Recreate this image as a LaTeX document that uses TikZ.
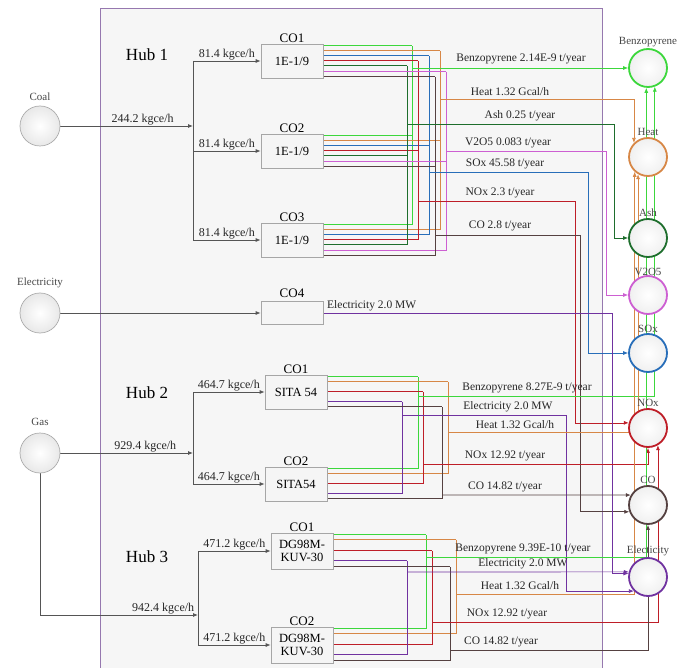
\documentclass[tikz,border=0pt]{standalone}
\usepackage{fontspec}
\setmainfont{Liberation Serif}
\usetikzlibrary{arrows.meta, positioning, calc, backgrounds}
\definecolor{hbpurple}{RGB}{150,120,175}
\definecolor{hbfill}{RGB}{246,246,246}
\definecolor{hbgrey}{RGB}{85,85,85}
\definecolor{hbbzp}{RGB}{60,215,60}
\definecolor{hbheat}{RGB}{215,135,70}
\definecolor{hbash}{RGB}{30,110,45}
\definecolor{hbvox}{RGB}{205,95,210}
\definecolor{hbsox}{RGB}{40,110,185}
\definecolor{hbnox}{RGB}{190,30,40}
\definecolor{hbco}{RGB}{85,65,65}
\definecolor{hbelec}{RGB}{112,50,160}
\tikzset{
  source/.style  = {circle, draw=gray!65, line width=0.7pt, inner color=white,
                    outer color=gray!18, minimum size=40pt, inner sep=0pt},
  sink/.style    = {circle, draw=#1, line width=1.8pt, inner color=white,
                    outer color=gray!12, minimum size=38pt, inner sep=0pt},
  unit/.style    = {rectangle, draw=gray!70, line width=0.7pt, fill=gray!8,
                    align=center, minimum width=62pt, minimum height=34pt,
                    font=\fontsize{12.5}{13}\selectfont, inner sep=1pt},
  nodelab/.style = {font=\fontsize{11}{12}\selectfont, text=gray!55!black, inner sep=1pt},
  colab/.style   = {font=\fontsize{13}{14}\selectfont, inner sep=0.5pt},
  hublab/.style  = {font=\fontsize{17}{18}\selectfont},
  flowlab/.style = {font=\fontsize{12}{13}\selectfont, text=black!85, inner sep=1pt},
  outlab/.style  = {font=\fontsize{11.5}{12}\selectfont, text=black!85, inner sep=1pt, anchor=south},
  fuel/.style    = {-{Latex[length=5pt,width=4pt]}, line width=0.8pt, draw=hbgrey},
  trunk/.style   = {line width=0.8pt, draw=hbgrey},
  wire/.style    = {line width=0.7pt, draw=#1},
  feed/.style    = {wire=#1, -{Latex[length=5pt,width=4pt]}},
}

\begin{document}
\begin{tikzpicture}[x=1pt, y=-1pt]
\useasboundingbox (0,0) rectangle (693,668);

% ---------- Sources ----------
\node[source] (coal) at (40,126) {};
\node[nodelab, above=4pt of coal] {Coal};
\node[source] (elsrc) at (40,313) {};
\node[nodelab, above=4pt of elsrc] {Electricity};
\node[source] (gas) at (40,453) {};
\node[nodelab, above=6pt of gas] {Gas};

% ---------- Hub 1 ----------
\node[hublab] (hub1) at (147,55) {Hub 1};
\node[unit] (h1a) at (292,61) {1E-1/9};
\node[colab, above=0pt of h1a] {CO1};
\node[unit] (h1b) at (292,151) {1E-1/9};
\node[colab, above=0pt of h1b] {CO2};
\node[unit] (h1c) at (292,240) {1E-1/9};
\node[colab, above=0pt of h1c] {CO3};
\node[unit, minimum height=23pt] (co4) at (292,313) {};
\node[colab, above=3pt of co4] {CO4};

% ---------- Hub 2 ----------
\node[hublab] (hub2) at (147,393) {Hub 2};
\node[unit] (h2a) at (296,392) {SITA 54};
\node[colab, above=0pt of h2a] {CO1};
\node[unit] (h2b) at (296,484) {SITA54};
\node[colab, above=0pt of h2b] {CO2};

% ---------- Hub 3 ----------
\node[hublab] (hub3) at (147,557) {Hub 3};
\node[unit, minimum height=36pt] (h3a) at (302,551) {DG98M-\\KUV-30};
\node[colab, above=0pt of h3a] {CO1};
\node[unit, minimum height=36pt] (h3b) at (302,645) {DG98M-\\KUV-30};
\node[colab, above=0pt of h3b] {CO2};

% ---------- Sinks ----------
\node[sink=hbbzp] (bzp) at (648,68) {};
\node[nodelab, above=0pt of bzp] {Benzopyrene};
\node[sink=hbheat] (heat) at (648,157) {};
\node[nodelab, above=0pt of heat] {Heat};
\node[sink=hbash] (ash) at (648,238) {};
\node[nodelab, above=0pt of ash] {Ash};
\node[sink=hbvox] (vox) at (648,295) {};
\node[nodelab, above=-2pt of vox] {V2O5};
\node[sink=hbsox] (sox) at (648,353) {};
\node[nodelab, above=-1pt of sox] {SOx};
\node[sink=hbnox] (nox) at (648,428) {};
\node[nodelab, above=0pt of nox] {NOx};
\node[sink=hbco] (cox) at (648,505) {};
\node[nodelab, above=0pt of cox] {CO};
\node[sink=hbelec] (elec) at (648,577) {};
\node[nodelab, above=0pt of elec] {Electicity};

\begin{scope}[on background layer]
\draw[hbpurple, fill=hbfill, line width=0.8pt] (100,8) rectangle (602,680);

% ---------- Fuel inputs ----------
\coordinate (sp1) at (193,126);
\draw[fuel] (coal) -- node[flowlab, above, pos=0.62]{244.2 kgce/h} (sp1);
\draw[trunk] (sp1 |- h1a) -- (sp1 |- h1c);
\foreach \u in {h1a,h1b,h1c}
  \draw[fuel] (sp1 |- \u) -- node[flowlab, above]{81.4 kgce/h} (\u);
\draw[fuel] (elsrc) -- (co4);

\coordinate (sp2) at (193,453);
\draw[fuel] (gas) -- node[flowlab, above, pos=0.64]{929.4 kgce/h} (sp2);
\draw[trunk] (sp2 |- h2a) -- (sp2 |- h2b);
\foreach \u in {h2a,h2b}
  \draw[fuel] (sp2 |- \u) -- node[flowlab, above]{464.7 kgce/h} (\u);

\coordinate (sp3) at (198,615);
\draw[fuel] (gas) |- node[flowlab, above, pos=0.89]{942.4 kgce/h} (sp3);
\draw[trunk] (sp3 |- h3a) -- (sp3 |- h3b);
\foreach \u in {h3a,h3b}
  \draw[fuel] (sp3 |- \u) -- node[flowlab, above]{471.2 kgce/h} (\u);

% ---------- Hub 1 outputs ----------
\foreach \col/\dy/\bx in {hbbzp/2/412, hbheat/7/440, hbsox/12/429, hbnox/17/418,
                          hbash/22/407, hbvox/28/446, hbco/33/435} {
  \foreach \u in {h1a,h1b,h1c}
    \draw[wire=\col] ([yshift=-\dy pt]\u.north east) -- ++(\bx-323,0);
  \draw[wire=\col] (\bx,44+\dy) -- (\bx,223+\dy);
}
\draw[feed=hbbzp] (412,68) -- (bzp);
\draw[feed=hbheat] (440,99) -| (heat.north west);
\draw[feed=hbash] (407,124) -- (614,124) |- (ash);
\draw[feed=hbvox] (446,151) -- (606,151) |- (vox);
\draw[feed=hbsox] (429,172) -- (588,172) |- (sox);
\draw[feed=hbnox] (418,201) -- (575,201) |- (nox.165);
\draw[feed=hbco] (435,235) -- (580,235) |- (cox.200);
\draw[feed=hbelec] (co4) -- (612,313) |- (elec.170);

% ---------- Hub 2 outputs ----------
\foreach \col/\dy/\bx in {hbbzp/2/418, hbheat/7/448, hbnox/17/423, hbelec/27/402, hbco/32/442} {
  \foreach \u in {h2a,h2b}
    \draw[wire=\col] ([yshift=-\dy pt]\u.north east) -- ++(\bx-327,0);
  \draw[wire=\col] (\bx,375+\dy) -- (\bx,467+\dy);
}
\draw[feed=hbbzp] (418,396) -| (bzp.-70);
\draw[feed=hbelec] (402,415) -- (566,415) |- (elec.-135);
\draw[feed=hbheat] (448,432) -| (heat.-120);
\draw[feed=hbnox] (423,464) -| (nox.south);
\draw[feed=hbco] (442,495) -- (cox.150);

% ---------- Hub 3 outputs ----------
\foreach \col/\dy/\bx in {hbbzp/2/426, hbheat/7/456, hbnox/18/432, hbelec/28/407, hbco/34/450} {
  \foreach \u in {h3a,h3b}
    \draw[wire=\col] ([yshift=-\dy pt]\u.north east) -- ++(\bx-333,0);
  \draw[wire=\col] (\bx,533+\dy) -- (\bx,627+\dy);
}
\draw[feed=hbbzp] (426,557) -| (bzp.-95);
\draw[feed=hbelec] (407,572) -- (elec.165);
\draw[feed=hbheat] (456,594) -| (heat.-132);
\draw[feed=hbnox] (432,622) -| (nox.-60);
\draw[feed=hbco] (450,650) -| (cox.south);
\end{scope}

% ---------- Output labels ----------
\node[outlab] at (521,65) {Benzopyrene 2.14E-9 t/year};
\node[outlab] at (510,97) {Heat 1.32 Gcal/h};
\node[outlab] at (520,122) {Ash 0.25 t/year};
\node[outlab] at (508,149) {V2O5 0.083 t/year};
\node[outlab] at (505,170) {SOx 45.58 t/year};
\node[outlab] at (500,199) {NOx 2.3 t/year};
\node[outlab] at (500,232) {CO 2.8 t/year};
\node[outlab, anchor=south west] at (326,312) {Electricity 2.0 MW};
\node[outlab] at (527,394) {Benzopyrene 8.27E-9 t/year};
\node[outlab] at (508,413) {Electricity 2.0 MW};
\node[outlab] at (515,430) {Heat 1.32 Gcal/h};
\node[outlab] at (505,462) {NOx 12.92 t/year};
\node[outlab] at (505,493) {CO 14.82 t/year};
\node[outlab] at (523,555) {Benzopyrene 9.39E-10 t/year};
\node[outlab] at (523,570) {Electricity 2.0 MW};
\node[outlab] at (520,591) {Heat 1.32 Gcal/h};
\node[outlab] at (507,620) {NOx 12.92 t/year};
\node[outlab] at (501,648) {CO 14.82 t/year};

\end{tikzpicture}
\end{document}
